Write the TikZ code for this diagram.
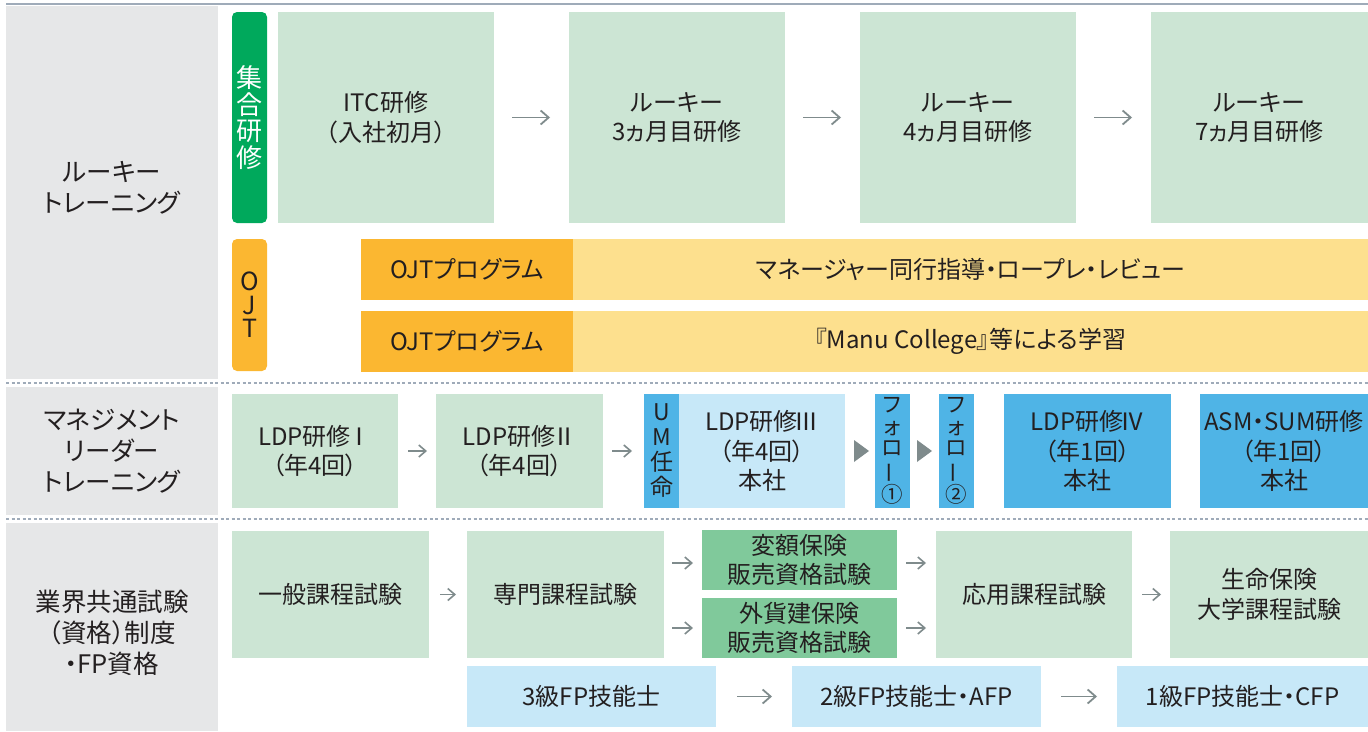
\documentclass[tikz,border=0pt]{standalone}
\usepackage{fontspec}
\setmainfont{Noto Sans CJK JP}[RawFeature={+palt}]
\newfontfamily\jpfull{Noto Sans CJK JP}
\usetikzlibrary{arrows.meta}
\definecolor{lgreen}{HTML}{CCE5D4}
\definecolor{dgreen}{HTML}{00A95C}
\definecolor{mgreen}{HTML}{80C99B}
\definecolor{orng}{HTML}{FBB731}
\definecolor{lyel}{HTML}{FDE08E}
\definecolor{blu}{HTML}{4FB4E6}
\definecolor{lblu}{HTML}{C7E8F8}
\definecolor{lgray}{HTML}{E6E7E8}
\definecolor{agray}{HTML}{7F8B8C}
\definecolor{rulec}{HTML}{9FABB9}
\definecolor{txt}{HTML}{231F20}
\newcommand{\mybox}[7]{\node[#6, minimum width={(#4-#2)*1pt}, minimum height={(#5-#3)*1pt}] (#1) at (#2,#3) {#7};}
\newcommand{\rn}[1]{\kern-3pt{#1}}
\tikzset{
  base/.style={inner sep=0pt, outer sep=0pt, align=center, text=txt, anchor=north west, font=\fontsize{24}{29.5}\selectfont},
  gbox/.style={base, fill=lgreen},
  mbox/.style={base, fill=mgreen},
  obox/.style={base, fill=orng},
  ybox/.style={base, fill=lyel},
  bbox/.style={base, fill=blu},
  lbbox/.style={base, fill=lblu},
  graybox/.style={base, fill=lgray},
  gbar/.style={base, fill=dgreen, rounded corners=5pt, text=white, font=\fontsize{26}{26.5}\selectfont},
  obar/.style={base, fill=orng, rounded corners=5pt, font=\fontsize{25}{23.5}\selectfont},
  vbar/.style={base, fill=blu, font=\fontsize{23}{25}\selectfont},
  fbar/.style={base, fill=blu, font=\fontsize{21.5}{21.5}\selectfont},
  lab/.style={align=center, text=txt, inner sep=0pt, font=\fontsize{25.5}{31}\selectfont},
  larr/.style={draw=agray, line width=1.8pt, -{Straight Barb[length=8pt,width=14pt,line width=1.8pt]}},
  sarr/.style={draw=agray, line width=1.6pt, -{Straight Barb[length=7pt,width=12pt,line width=1.6pt]}},
  tri/.style={fill=agray},
}
\begin{document}
\begin{tikzpicture}[x=1pt,y=-1pt]
\useasboundingbox (0,0) rectangle (1368,731);
% left column
\mybox{sec1}{6}{6}{218}{379}{graybox}{}
\mybox{sec2}{6}{387}{218}{515}{graybox}{}
\mybox{sec3}{6}{523}{218}{731}{graybox}{}
\node[lab] (lab1) at (112,188) {ルーキー\\トレーニング};
\node[lab] (lab2) at (112,451) {マネジメント\\リーダー\\トレーニング};
\node[lab] (lab3) at (112,633) {業界共通試験\\（資格）制度\\・FP資格};
% rules
\draw[rulec, line width=2pt] (6,4) -- (1368,4);
\draw[rulec, line width=1.3pt, dash pattern=on 3pt off 2.5pt] (6,383) -- (1368,383);
\draw[rulec, line width=1.3pt, dash pattern=on 3pt off 2.5pt] (6,519) -- (1368,519);
% section 1
\mybox{cl}{232}{12}{267}{223}{gbar}{集\\合\\研\\修}
\mybox{itc}{278}{12}{494}{223}{gbox}{ITC研修\\（入社初月）}
\mybox{r3}{569}{12}{785}{223}{gbox}{ルーキー\\3ヵ月目研修}
\mybox{r4}{860}{12}{1076}{223}{gbox}{ルーキー\\4ヵ月目研修}
\mybox{r7}{1151}{12}{1368}{223}{gbox}{ルーキー\\7ヵ月目研修}
\draw[larr] ([xshift=18pt]itc.east) -- ([xshift=-19pt]r3.west);
\draw[larr] ([xshift=18pt]r3.east) -- ([xshift=-19pt]r4.west);
\draw[larr] ([xshift=18pt]r4.east) -- ([xshift=-19pt]r7.west);
\mybox{ojt}{232}{239}{267}{371}{obar}{O\\J\\T}
\mybox{o1}{361}{239}{573}{300}{obox}{OJTプログラム}
\mybox{y1}{573}{239}{1368}{300}{ybox}{マネージャー同行指導・ロープレ・レビュー}
\mybox{o2}{361}{311}{573}{372}{obox}{OJTプログラム}
\mybox{y2}{573}{311}{1368}{372}{ybox}{『Manu College』等による学習}
% section 2
\mybox{l1}{232}{394}{398}{508}{gbox}{LDP研修\rn{Ⅰ}\\（年4回）}
\mybox{l2}{436}{394}{603}{508}{gbox}{LDP研修\rn{Ⅱ}\\（年4回）}
\draw[sarr] ([xshift=10pt]l1.east) -- ([xshift=-9pt]l2.west);
\mybox{um}{644}{394}{679}{508}{vbar}{U\\M\\任\\命}
\draw[sarr] ([xshift=9pt]l2.east) -- ([xshift=-12pt]um.west);
\mybox{l3}{679}{394}{845}{508}{lbbox}{LDP研修\rn{Ⅲ}\\（年4回）\\本社}
\mybox{f1}{875}{394}{910}{508}{fbar}{フ\\ォ\\ロ\\\rotatebox[origin=c]{90}{ー}\\①}
\mybox{f2}{939}{394}{974}{508}{fbar}{フ\\ォ\\ロ\\\rotatebox[origin=c]{90}{ー}\\②}
\fill[tri] ([xshift=9pt]l3.east) -- ++(0,-11) -- ++(15,11) -- ++(-15,11) -- cycle;
\fill[tri] ([xshift=7pt]f1.east) -- ++(0,-11) -- ++(15,11) -- ++(-15,11) -- cycle;
\mybox{l4}{1004}{394}{1171}{508}{bbox}{LDP研修\rn{Ⅳ}\\（年1回）\\本社}
\mybox{asm}{1200}{394}{1368}{508}{bbox}{ASM・SUM研修\\（年1回）\\本社}
% section 3
\mybox{ip}{232}{531}{429}{658}{gbox}{一般課程試験}
\mybox{sp}{467}{531}{664}{658}{gbox}{専門課程試験}
\draw[sarr] ([xshift=11pt]ip.east) -- ([xshift=-11pt]sp.west);
\mybox{hg}{702}{530}{897}{590}{mbox}{変額保険\\販売資格試験}
\mybox{gk}{702}{598}{897}{658}{mbox}{外貨建保険\\販売資格試験}
\mybox{oy}{936}{531}{1132}{658}{gbox}{応用課程試験}
\mybox{sl}{1170}{531}{1368}{658}{gbox}{生命保険\\大学課程試験}
\draw[sarr] ([xshift=-30pt,yshift=-3pt]hg.west) -- ([xshift=-9pt,yshift=-3pt]hg.west);
\draw[sarr] ([xshift=-30pt]gk.west) -- ([xshift=-9pt]gk.west);
\draw[sarr] ([xshift=9pt,yshift=-3pt]hg.east) -- ([xshift=29pt,yshift=-3pt]hg.east);
\draw[sarr] ([xshift=9pt]gk.east) -- ([xshift=29pt]gk.east);
\draw[sarr] ([xshift=10pt]oy.east) -- ([xshift=-9pt]sl.west);
\mybox{fp3}{467}{666}{716}{727}{lbbox}{3級FP技能士}
\mybox{fp2}{792}{666}{1041}{727}{lbbox}{2級FP技能士・AFP}
\mybox{fp1}{1117}{666}{1368}{727}{lbbox}{1級FP技能士・CFP}
\draw[larr] ([xshift=21pt]fp3.east) -- ([xshift=-20pt]fp2.west);
\draw[larr] ([xshift=20pt]fp2.east) -- ([xshift=-20pt]fp1.west);
\end{tikzpicture}
\end{document}
